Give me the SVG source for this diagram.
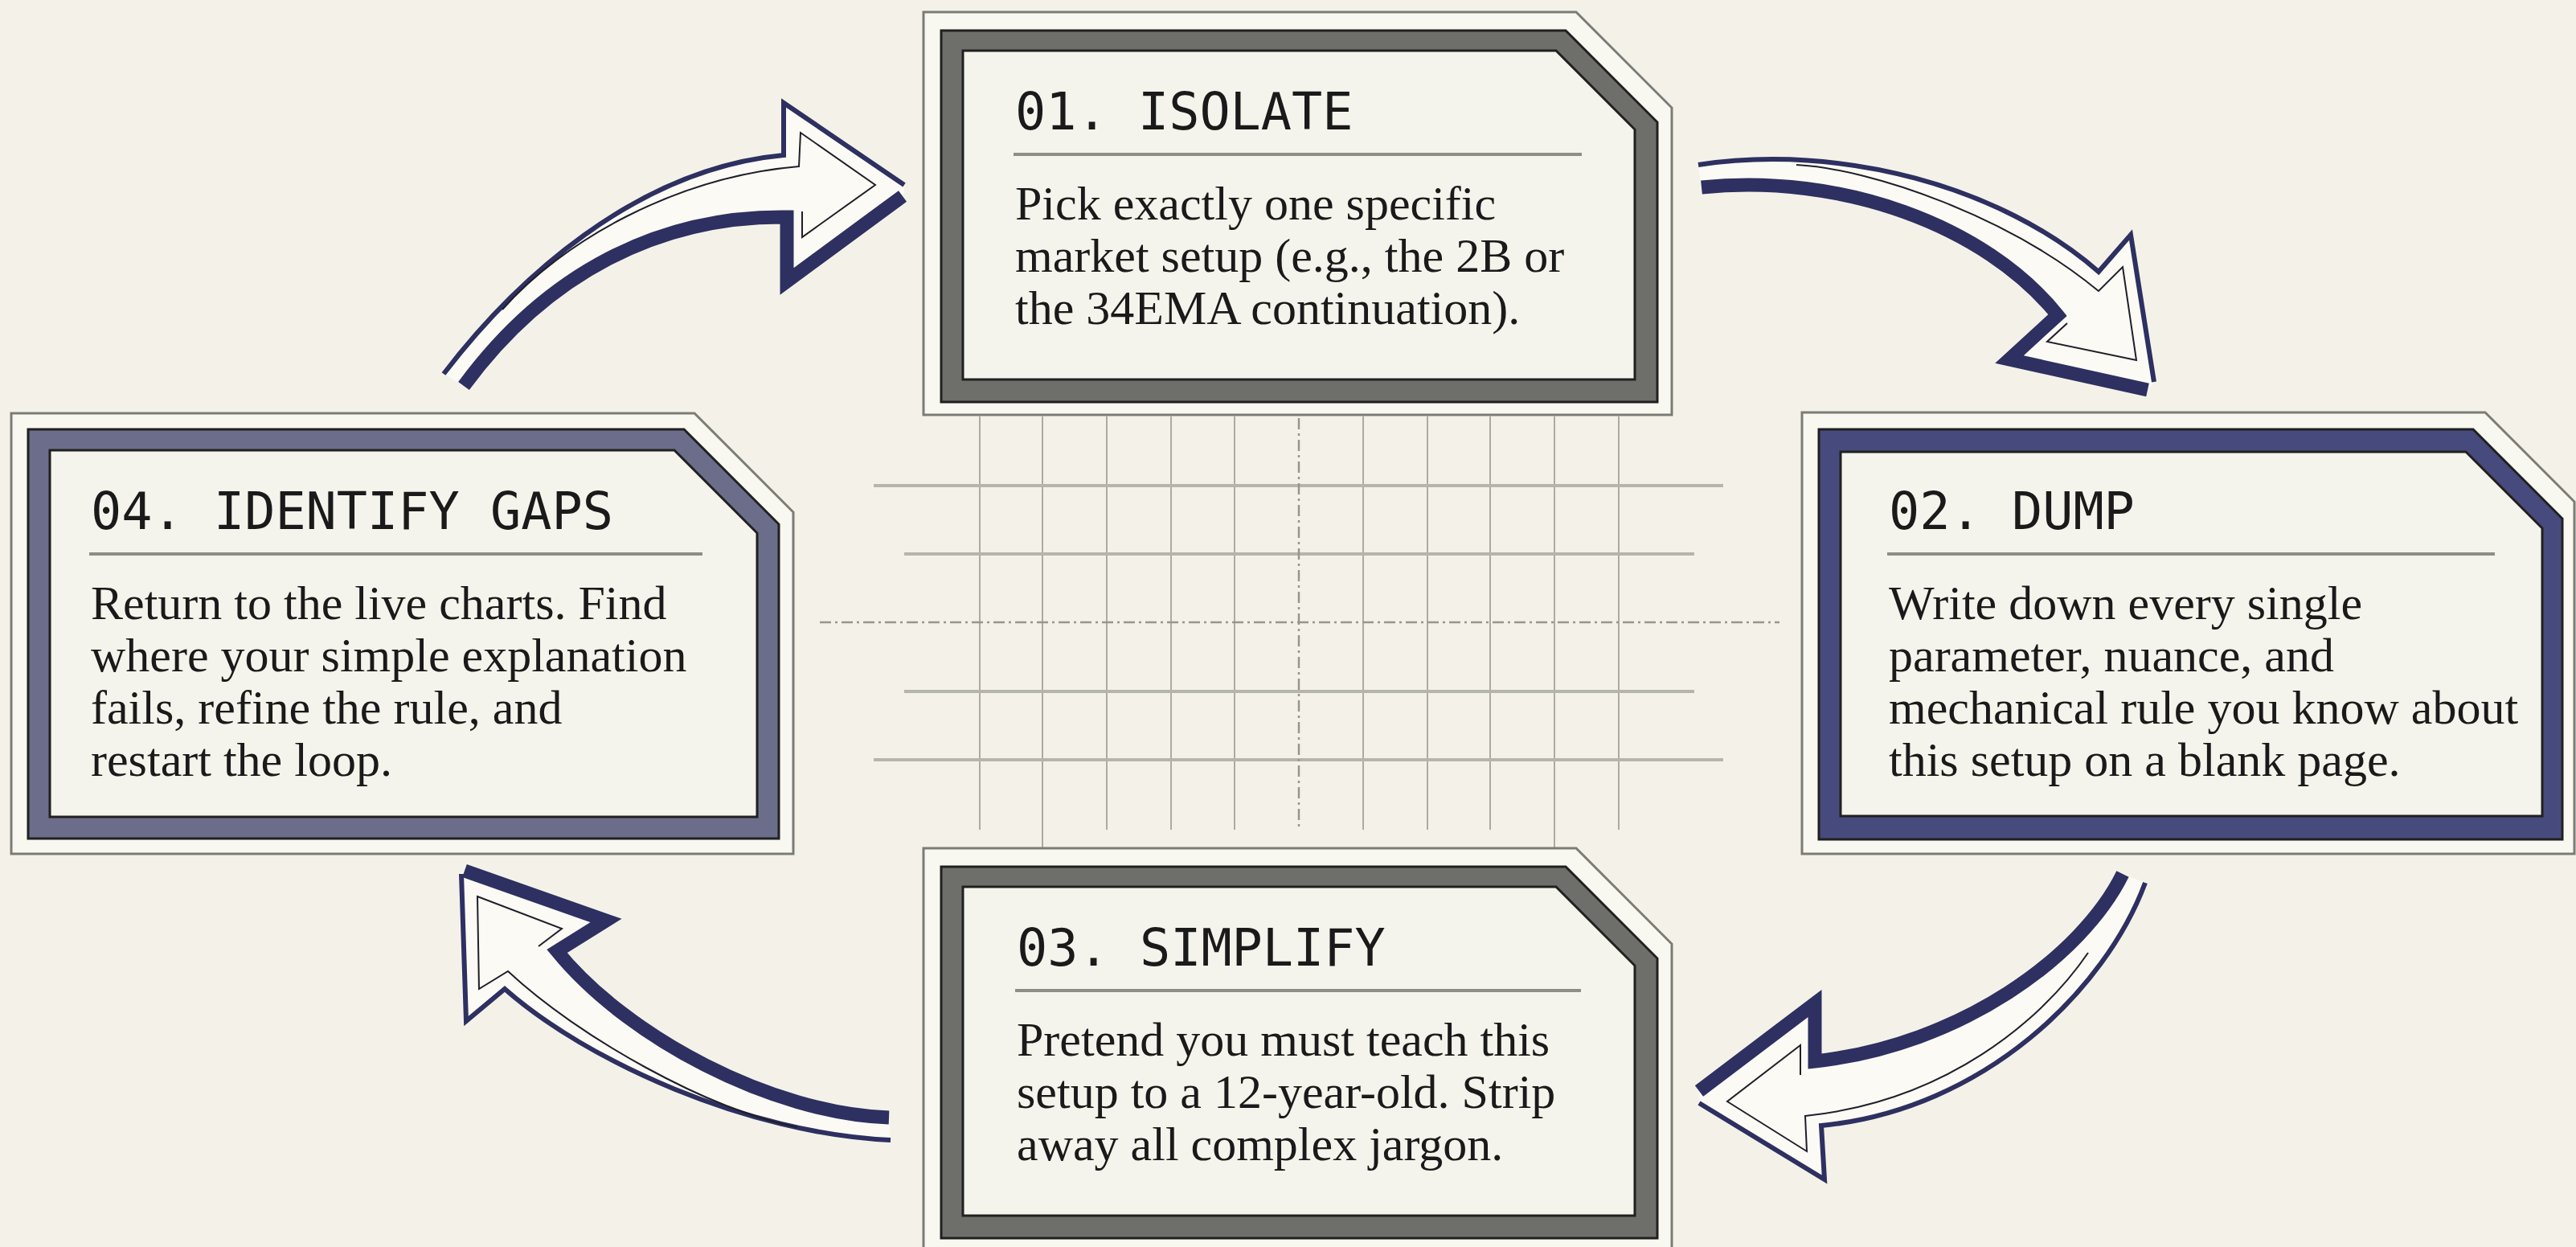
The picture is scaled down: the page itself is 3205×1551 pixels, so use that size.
<svg xmlns="http://www.w3.org/2000/svg" width="3205" height="1551" viewBox="0 0 3205 1551">
<defs>
<style>
.bg{fill:#f4f2e8}
.outer{fill:#f8f7f0;stroke:#7c7c76;stroke-width:3}
.frame{stroke:#202020;stroke-width:3}
.f-gray{fill:#6e6e6b}
.f-slate{fill:#6b6d8b}
.f-navy{fill:#464a7c}
.panel{fill:#f5f4ec;stroke:#202020;stroke-width:3}
.title{font-family:"DejaVu Sans Mono","Liberation Mono",monospace;font-size:63.5px;fill:#1a1a1a}
.body{font-family:"Liberation Serif","DejaVu Serif",serif;font-size:60px;fill:#1a1a1a}
.sep{stroke:#8e8d86;stroke-width:4}
.gh{stroke:#b6b5ad;stroke-width:4;fill:none}
.gv{stroke:#a4a49d;stroke-width:1.8;fill:none}
.gd{stroke:#96968f;stroke-width:2.5;stroke-dasharray:14 5 3 5;fill:none}
.a-fill{fill:#fbfaf4;stroke:none}
.a-thin{fill:none;stroke:#2d3060;stroke-width:6;stroke-linejoin:miter}
.a-thick{fill:none;stroke:#2d3060;stroke-width:17;stroke-linejoin:miter}
.a-inner{fill:none;stroke:#1f1f2a;stroke-width:2}
</style>
</defs>
<rect class="bg" x="0" y="0" width="3205" height="1551"/>

<g id="grid">
<path class="gv" d="M1219,518V1032M1297,518V1055M1377,518V1032M1457,518V1032M1536,518V1032M1696,518V1032M1776,518V1032M1854,518V1032M1934,518V1055M2014,518V1032"/>
<path class="gh" d="M1087,604H2144M1125,689H2108M1125,860H2108M1087,945H2144"/>
<path class="gd" d="M1020,774H2214M1616,520V1032"/>
</g>

<g id="connectors">
<g id="arrow-04-01">
<path class="a-fill" d="M552,465 C640,350 790,210 975,193 L975,128 L1125,230 L1125,240 L979,350 L979,270 C820,268 680,340 577,480 Z"/>
<path class="a-thick" d="M577,480 C680,340 820,268 979,270 L979,350 L1123,244"/>
<path class="a-thin" d="M552,465 C640,350 790,210 975,193 L975,128 L1125,230"/>
<path class="a-inner" d="M625,385 C700,300 840,220 994,207 L996,165 L1089,230 L998,295 L998,263"/>
</g>
<g id="arrow-01-02">
<path class="a-fill" d="M2113,205 C2290,178 2490,232 2611,338 L2651,292 L2680,475 L2672,485 L2500,447 L2560,392 C2470,280 2290,215 2117,233 Z"/>
<path class="a-thick" d="M2117,233 C2290,215 2470,280 2560,392 L2500,447 L2672,485"/>
<path class="a-thin" d="M2113,205 C2290,178 2490,232 2611,338 L2651,292 L2680,475"/>
<path class="a-inner" d="M2235,205 C2330,210 2500,270 2611,362 L2641,332 L2658,448 L2547,425 L2572,402"/>
</g>
<g id="arrow-02-03">
<path class="a-fill" d="M2641,1087 C2590,1190 2440,1300 2258,1320 L2258,1248 L2114,1357 L2114,1372 L2270,1467 L2266,1400 C2470,1380 2620,1230 2669,1098 Z"/>
<path class="a-thick" d="M2641,1087 C2590,1190 2440,1300 2258,1320 L2258,1248 L2114,1357"/>
<path class="a-thin" d="M2669,1098 C2620,1230 2470,1380 2266,1400 L2270,1467 L2114,1372"/>
<path class="a-inner" d="M2598,1185 C2540,1270 2420,1370 2246,1388 L2248,1432 L2149,1370 L2240,1300 L2240,1337"/>
</g>
<g id="arrow-03-04">
<path class="a-fill" d="M1106,1390 C960,1385 780,1290 693,1183 L754,1145 L578,1083 L574,1087 L580,1270 L628,1230 C730,1320 930,1410 1108,1418 Z"/>
<path class="a-thick" d="M1106,1390 C960,1385 780,1290 693,1183 L754,1145 L578,1083"/>
<path class="a-thin" d="M1108,1418 C930,1410 730,1320 628,1230 L580,1270 L574,1087"/>
<path class="a-inner" d="M992,1402 C880,1380 720,1290 632,1208 L596,1230 L594,1115 L699,1155 L670,1177"/>
</g>
</g>

<g id="node-01">
<path class="outer" d="M1149,15 H1961 L2080,134 V516 H1149 Z"/>
<path class="frame f-gray" d="M1171,38 H1948 L2062,152 V500 H1171 Z"/>
<path class="panel" d="M1198,63 H1936 L2034,161 V472 H1198 Z"/>
<text class="title" x="1263" y="161">01. ISOLATE</text>
<path class="sep" d="M1261,192 H1968"/>
<text class="body" x="1263" y="273">Pick exactly one specific</text>
<text class="body" x="1263" y="338">market setup (e.g., the 2B or</text>
<text class="body" x="1263" y="403">the 34EMA continuation).</text>
</g>

<g id="node-02">
<path class="outer" d="M2242,513 H3092 L3203,624 V1062 H2242 Z"/>
<path class="frame f-navy" d="M2263,534 H3077 L3188,645 V1044 H2263 Z"/>
<path class="panel" d="M2290,562 H3068 L3163,657 V1015 H2290 Z"/>
<text class="title" x="2350" y="658">02. DUMP</text>
<path class="sep" d="M2348,689 H3104"/>
<text class="body" x="2350" y="770">Write down every single</text>
<text class="body" x="2350" y="835">parameter, nuance, and</text>
<text class="body" x="2350" y="900">mechanical rule you know about</text>
<text class="body" x="2350" y="965">this setup on a blank page.</text>
</g>

<g id="node-03">
<path class="outer" d="M1149,1055 H1961 L2080,1174 V1560 H1149 Z"/>
<path class="frame f-gray" d="M1171,1078 H1948 L2062,1192 V1540 H1171 Z"/>
<path class="panel" d="M1198,1103 H1936 L2034,1201 V1512 H1198 Z"/>
<text class="title" x="1265" y="1201">03. SIMPLIFY</text>
<path class="sep" d="M1263,1232 H1967"/>
<text class="body" x="1265" y="1313">Pretend you must teach this</text>
<text class="body" x="1265" y="1378">setup to a 12-year-old. Strip</text>
<text class="body" x="1265" y="1443">away all complex jargon.</text>
</g>

<g id="node-04">
<path class="outer" d="M14,514 H864 L987,637 V1062 H14 Z"/>
<path class="frame f-slate" d="M35,534 H851 L969,652 V1043 H35 Z"/>
<path class="panel" d="M62,560 H839 L942,663 V1016 H62 Z"/>
<text class="title" x="113" y="658">04. IDENTIFY GAPS</text>
<path class="sep" d="M111,689 H874"/>
<text class="body" x="113" y="770">Return to the live charts. Find</text>
<text class="body" x="113" y="835">where your simple explanation</text>
<text class="body" x="113" y="900">fails, refine the rule, and</text>
<text class="body" x="113" y="965">restart the loop.</text>
</g>
</svg>
